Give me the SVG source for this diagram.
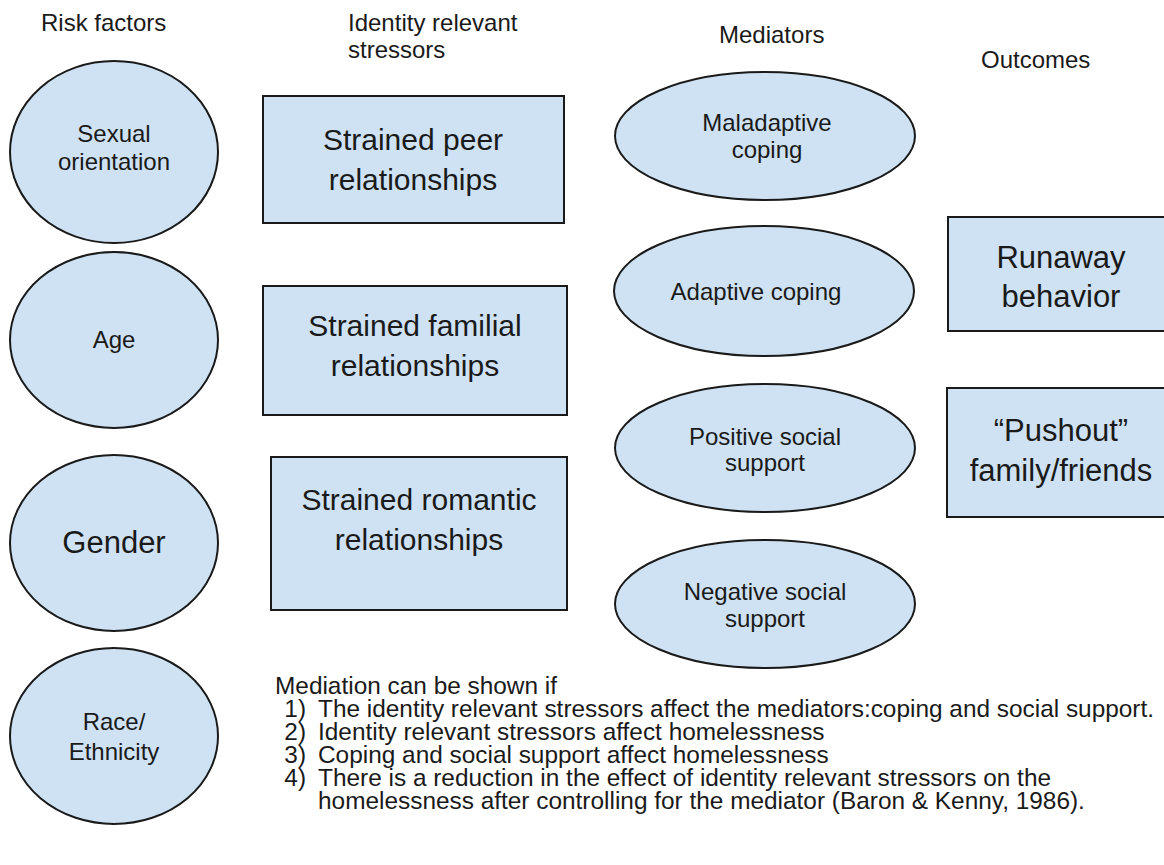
<svg xmlns="http://www.w3.org/2000/svg" width="1164" height="865" viewBox="0 0 1164 865">
<style>
  .shape { fill: #cfe2f3; stroke: #1a1a1a; stroke-width: 2; }
  text { font-family: "Liberation Sans", Arial, sans-serif; fill: #1a1a1a; }
  .hdr { font-size: 24px; }
  .c { text-anchor: middle; }
  .sm { font-size: 24px; }
  .lg { font-size: 30px; }
  .xl { font-size: 31px; }
  .note { font-size: 24.4px; }
  .num { font-size: 24.4px; text-anchor: end; }
</style>
<rect width="1164" height="865" fill="#ffffff"/>

<g id="headers">
  <text class="hdr" x="41" y="31">Risk factors</text>
  <text class="hdr" x="348" y="31">Identity relevant</text>
  <text class="hdr" x="348" y="58">stressors</text>
  <text class="hdr" x="719" y="43">Mediators</text>
  <text class="hdr" x="981" y="68">Outcomes</text>
</g>

<g id="sexual-orientation">
  <ellipse class="shape" cx="114" cy="152" rx="104" ry="91"/>
  <text class="sm c" x="114" y="142">Sexual</text>
  <text class="sm c" x="114" y="170">orientation</text>
</g>
<g id="age">
  <ellipse class="shape" cx="114" cy="340" rx="104" ry="88"/>
  <text class="sm c" x="114" y="348">Age</text>
</g>
<g id="gender">
  <ellipse class="shape" cx="114" cy="543" rx="104" ry="88"/>
  <text class="c" x="114" y="553" style="font-size:31px">Gender</text>
</g>
<g id="race-ethnicity">
  <ellipse class="shape" cx="114" cy="736" rx="104" ry="88"/>
  <text class="sm c" x="114" y="730">Race/</text>
  <text class="sm c" x="114" y="760">Ethnicity</text>
</g>

<g id="strained-peer">
  <rect class="shape" x="263" y="96" width="301" height="127"/>
  <text class="lg c" x="413" y="150">Strained peer</text>
  <text class="lg c" x="413" y="190">relationships</text>
</g>
<g id="strained-familial">
  <rect class="shape" x="263" y="286" width="304" height="129"/>
  <text class="lg c" x="415" y="336">Strained familial</text>
  <text class="lg c" x="415" y="376">relationships</text>
</g>
<g id="strained-romantic">
  <rect class="shape" x="271" y="457" width="296" height="153"/>
  <text class="lg c" x="419" y="510">Strained romantic</text>
  <text class="lg c" x="419" y="550">relationships</text>
</g>

<g id="maladaptive-coping">
  <ellipse class="shape" cx="765" cy="136" rx="150" ry="64"/>
  <text class="sm c" x="767" y="131">Maladaptive</text>
  <text class="sm c" x="767" y="158">coping</text>
</g>
<g id="adaptive-coping">
  <ellipse class="shape" cx="764" cy="291" rx="150" ry="65"/>
  <text class="sm c" x="756" y="300">Adaptive coping</text>
</g>
<g id="positive-social-support">
  <ellipse class="shape" cx="765" cy="448" rx="150" ry="64"/>
  <text class="sm c" x="765" y="445">Positive social</text>
  <text class="sm c" x="765" y="471">support</text>
</g>
<g id="negative-social-support">
  <ellipse class="shape" cx="765" cy="604" rx="150" ry="64"/>
  <text class="sm c" x="765" y="600">Negative social</text>
  <text class="sm c" x="765" y="627">support</text>
</g>

<g id="runaway-behavior">
  <rect class="shape" x="948" y="217" width="230" height="114"/>
  <text class="xl c" x="1061" y="268">Runaway</text>
  <text class="xl c" x="1061" y="307">behavior</text>
</g>
<g id="pushout">
  <rect class="shape" x="947" y="388" width="230" height="129"/>
  <text class="xl c" x="1061" y="441">“Pushout”</text>
  <text class="xl c" x="1061" y="481">family/friends</text>
</g>

<g id="connectors"></g>

<g id="mediation-note">
  <text class="note" x="275" y="694">Mediation can be shown if</text>
  <text class="num" x="306" y="717">1)</text>
  <text class="note" x="318" y="717">The identity relevant stressors affect the mediators:coping and social support.</text>
  <text class="num" x="306" y="740">2)</text>
  <text class="note" x="318" y="740">Identity relevant stressors affect homelessness</text>
  <text class="num" x="306" y="763">3)</text>
  <text class="note" x="318" y="763">Coping and social support affect homelessness</text>
  <text class="num" x="306" y="786">4)</text>
  <text class="note" x="318" y="786">There is a reduction in the effect of identity relevant stressors on the</text>
  <text class="note" x="318" y="809">homelessness after controlling for the mediator (Baron &amp; Kenny, 1986).</text>
</g>
</svg>
